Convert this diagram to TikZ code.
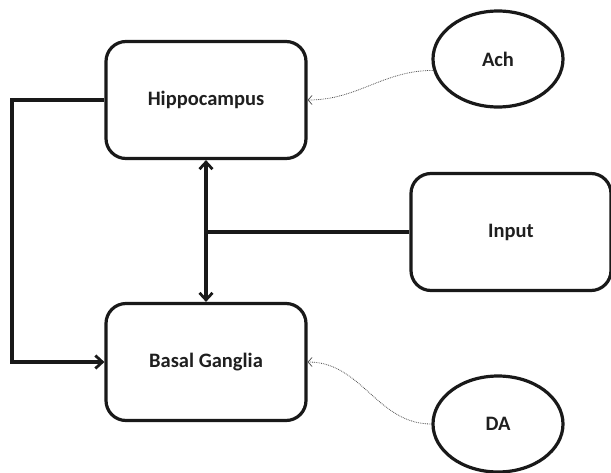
\documentclass[tikz,border=0pt]{standalone}
\usepackage{fontspec}
\setmainfont{Carlito}
\usetikzlibrary{shapes.geometric,arrows.meta}
\begin{document}
\begin{tikzpicture}[x=1pt,y=-1pt,
  box/.style={draw=black!90,line width=3.2pt,rounded corners=20pt,minimum width=200pt,minimum height=117pt,inner sep=0pt,font=\fontsize{20.5}{24}\selectfont\bfseries,text=black!88},
  oval/.style={draw=black!90,line width=3.2pt,ellipse,minimum width=130pt,minimum height=96pt,inner sep=0pt,font=\fontsize{20.5}{24}\selectfont\bfseries,text=black!88},
  conn/.style={draw=black!90,line width=3.2pt},
  mod/.style={draw=black!70,line width=0.8pt,densely dotted,-{Straight Barb[length=4pt,width=9pt,line width=0.7pt]}},
  bigtip/.tip={Straight Barb[length=7pt,width=13pt,line width=2.8pt]}]
\useasboundingbox (0,0) rectangle (611,472);
\node[box] (H) at (206,100) {Hippocampus};
\node[box] (B) at (206,362) {Basal Ganglia};
\node[box] (I) at (511,232) {Input};
\node[oval] (A) at (498,59) {Ach};
\node[oval] (D) at (498,424) {DA};
\coordinate (L) at (12,100);
\draw[conn,bigtip-bigtip] (H.south) -- (B.north);
\draw[conn] (I.west) -- (H.south |- I.west);
\draw[conn,-bigtip] (H.west) -- (L) |- (B.west);
\draw[mod] (A.190) to[out=180,in=0] (H.east);
\draw[mod] (D.west) to[out=180,in=0] (B.east);
\end{tikzpicture}
\end{document}
